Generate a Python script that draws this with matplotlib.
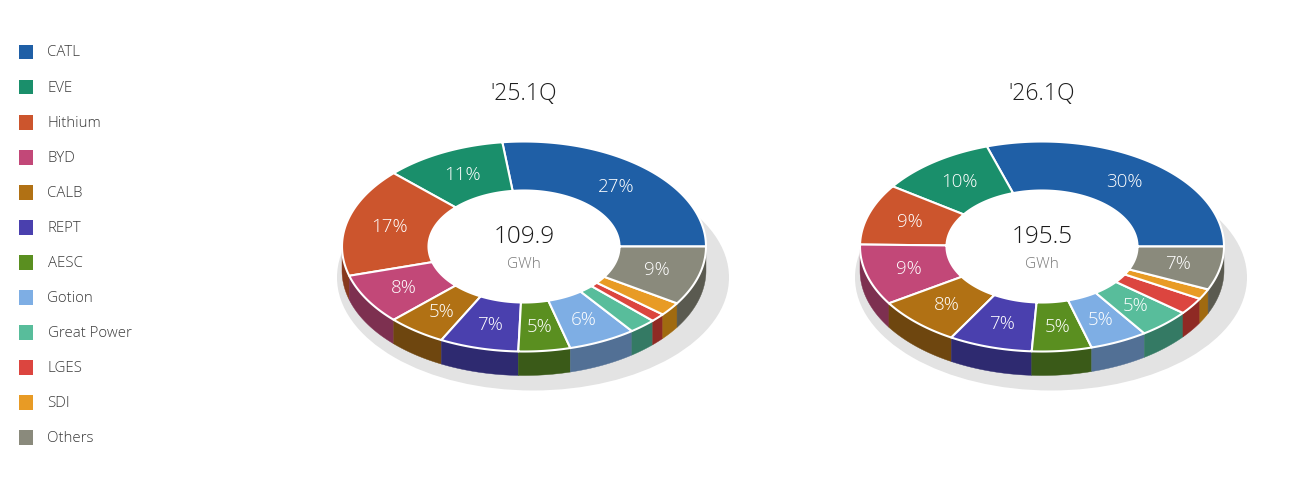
import numpy as np
import matplotlib
matplotlib.use("Agg")
import matplotlib.pyplot as plt
from matplotlib.patches import Ellipse, Rectangle

plt.rcParams['font.family'] = ['Open Sans', 'DejaVu Sans']
plt.rcParams['font.weight'] = 'light'

# makers and shares, counter clockwise from 3 o'clock
makers = ["CATL", "EVE", "Hithium", "BYD", "CALB", "REPT", "AESC", "Gotion",
          "Great Power", "LGES", "SDI", "Others"]
share_25 = [26.9, 10.8, 16.8, 7.8, 5.2, 7.0, 4.6, 6.0, 2.4, 1.3, 2.1, 9.1]
share_26 = [29.9, 10.4, 9.4, 9.4, 7.6, 7.4, 5.3, 5.1, 4.6, 2.6, 1.6, 6.7]
titles = ["'25.1Q", "'26.1Q"]
totals = ["109.9", "195.5"]
unit = "GWh"

top_colors = ["#1f5fa6", "#1a8f6b", "#cc552d", "#c24878", "#b17114", "#4a40ae",
              "#5a8f20", "#7eaee4", "#58bd9b", "#dc453f", "#e89b25", "#8a8a7c"]
side_colors = ["#153f6e", "#126048", "#86391e", "#7d3050", "#6e460f", "#2e2a70",
               "#3a5a18", "#527095", "#347a64", "#8f2a24", "#a06a10", "#5a5a50"]

# sizes in pixels, the axes below is one unit per pixel
RX, RY = 182, 105
IN_RX, IN_RY = 95.5, 56
DEPTH = 24
CY = 246.5


def arc(cx, cy, rx, ry, a0, a1):
    t = np.radians(np.linspace(a0, a1, 90))
    return cx + rx * np.cos(t), cy - ry * np.sin(t)


def draw_ring(ax, cx, shares, title, total):
    # ground shadow
    ax.add_patch(Ellipse((cx + 9, CY + 31), 392, 226, color="#e3e3e3", lw=0, zorder=1))

    edges = np.cumsum([0] + shares) / sum(shares) * 360

    # side wall, only the front half can be seen
    for i in range(len(shares)):
        a0 = max(edges[i], 180)
        a1 = edges[i + 1]
        if a1 <= a0:
            continue
        x, y = arc(cx, CY, RX, RY, a0, a1)
        ax.fill(np.r_[x, x[::-1]], np.r_[y, y[::-1] + DEPTH], fc=side_colors[i],
                ec=side_colors[i], lw=0.3, zorder=2)

    # hole in the middle
    ax.add_patch(Ellipse((cx, CY), IN_RX * 2, IN_RY * 2, fc="white", lw=0, zorder=2))

    # top face
    for i, v in enumerate(shares):
        a0, a1 = edges[i], edges[i + 1]
        ox, oy = arc(cx, CY, RX, RY, a0, a1)
        ix, iy = arc(cx, CY, IN_RX, IN_RY, a1, a0)
        ax.fill(np.r_[ox, ix], np.r_[oy, iy], fc=top_colors[i], ec="white",
                lw=1.5, joinstyle="round", zorder=3)
        if v >= 4:
            mid = np.radians((a0 + a1) / 2)
            ax.text(cx + (RX + IN_RX) / 2 * np.cos(mid), CY - (RY + IN_RY) / 2 * np.sin(mid) + 0.5,
                    f"{v:.0f}%", color="white", fontsize=13.5, ha="center",
                    va="center", zorder=4)

    ax.text(cx, 94, title, fontsize=16.5, color="#1f1f1f", ha="center", va="center")
    ax.text(cx, 237, total, fontsize=17.5, color="#1a1a1a", ha="center", va="center", zorder=4)
    ax.text(cx, 264, unit, fontsize=11, color="#777777", ha="center", va="center", zorder=4)


fig = plt.figure(figsize=(13, 4.9), dpi=100)
ax = fig.add_axes([0, 0, 1, 1])
ax.set_xlim(0, 1300)
ax.set_ylim(490, 0)
ax.axis("off")

draw_ring(ax, 524, share_25, titles[0], totals[0])
draw_ring(ax, 1042, share_26, titles[1], totals[1])

# legend column
for i, name in enumerate(makers):
    y = 52 + 35 * i
    ax.add_patch(Rectangle((18.5, y - 7), 14.5, 14.5, fc=top_colors[i], lw=0))
    ax.text(47.5, y + 1, name, fontsize=10.8, color="#3a3a3a", va="center", ha="left")

fig.savefig("out.png", dpi=100)
